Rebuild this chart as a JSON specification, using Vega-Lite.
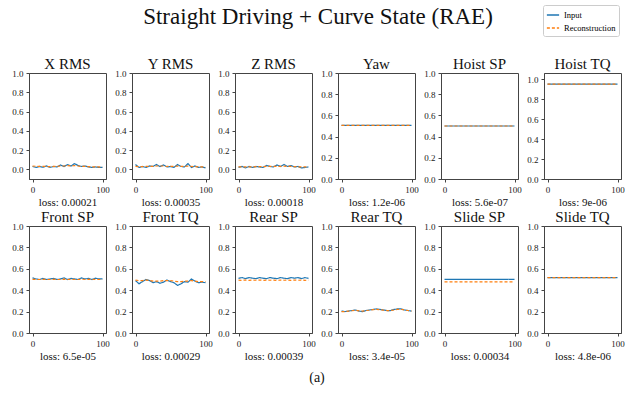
{
  "$schema": "https://vega.github.io/schema/vega-lite/v6.json",
  "background": "white",
  "padding": {"left": 11, "top": 4, "right": 5, "bottom": 5},
  "data": {"values": [
    {"p":"X RMS","x":0,"Input":0.03,"Reconstruction":0.035},
    {"p":"X RMS","x":5,"Input":0.02,"Reconstruction":0.032},
    {"p":"X RMS","x":10,"Input":0.03,"Reconstruction":0.03},
    {"p":"X RMS","x":15,"Input":0.022,"Reconstruction":0.03},
    {"p":"X RMS","x":20,"Input":0.035,"Reconstruction":0.03},
    {"p":"X RMS","x":25,"Input":0.02,"Reconstruction":0.028},
    {"p":"X RMS","x":30,"Input":0.03,"Reconstruction":0.03},
    {"p":"X RMS","x":35,"Input":0.025,"Reconstruction":0.03},
    {"p":"X RMS","x":40,"Input":0.045,"Reconstruction":0.035},
    {"p":"X RMS","x":45,"Input":0.03,"Reconstruction":0.035},
    {"p":"X RMS","x":50,"Input":0.05,"Reconstruction":0.038},
    {"p":"X RMS","x":55,"Input":0.035,"Reconstruction":0.035},
    {"p":"X RMS","x":60,"Input":0.06,"Reconstruction":0.04},
    {"p":"X RMS","x":65,"Input":0.04,"Reconstruction":0.035},
    {"p":"X RMS","x":70,"Input":0.03,"Reconstruction":0.03},
    {"p":"X RMS","x":75,"Input":0.035,"Reconstruction":0.03},
    {"p":"X RMS","x":80,"Input":0.025,"Reconstruction":0.028},
    {"p":"X RMS","x":85,"Input":0.02,"Reconstruction":0.025},
    {"p":"X RMS","x":90,"Input":0.025,"Reconstruction":0.025},
    {"p":"X RMS","x":95,"Input":0.02,"Reconstruction":0.025},
    {"p":"X RMS","x":100,"Input":0.02,"Reconstruction":0.022},
    {"p":"Y RMS","x":0,"Input":0.05,"Reconstruction":0.03},
    {"p":"Y RMS","x":5,"Input":0.02,"Reconstruction":0.028},
    {"p":"Y RMS","x":10,"Input":0.03,"Reconstruction":0.028},
    {"p":"Y RMS","x":15,"Input":0.02,"Reconstruction":0.03},
    {"p":"Y RMS","x":20,"Input":0.035,"Reconstruction":0.03},
    {"p":"Y RMS","x":25,"Input":0.03,"Reconstruction":0.032},
    {"p":"Y RMS","x":30,"Input":0.05,"Reconstruction":0.035},
    {"p":"Y RMS","x":35,"Input":0.03,"Reconstruction":0.035},
    {"p":"Y RMS","x":40,"Input":0.045,"Reconstruction":0.035},
    {"p":"Y RMS","x":45,"Input":0.025,"Reconstruction":0.03},
    {"p":"Y RMS","x":50,"Input":0.03,"Reconstruction":0.03},
    {"p":"Y RMS","x":55,"Input":0.02,"Reconstruction":0.03},
    {"p":"Y RMS","x":60,"Input":0.05,"Reconstruction":0.035},
    {"p":"Y RMS","x":65,"Input":0.03,"Reconstruction":0.032},
    {"p":"Y RMS","x":70,"Input":0.025,"Reconstruction":0.03},
    {"p":"Y RMS","x":75,"Input":0.06,"Reconstruction":0.035},
    {"p":"Y RMS","x":80,"Input":0.02,"Reconstruction":0.03},
    {"p":"Y RMS","x":85,"Input":0.035,"Reconstruction":0.028},
    {"p":"Y RMS","x":90,"Input":0.02,"Reconstruction":0.025},
    {"p":"Y RMS","x":95,"Input":0.025,"Reconstruction":0.025},
    {"p":"Y RMS","x":100,"Input":0.015,"Reconstruction":0.02},
    {"p":"Z RMS","x":0,"Input":0.02,"Reconstruction":0.025},
    {"p":"Z RMS","x":5,"Input":0.03,"Reconstruction":0.025},
    {"p":"Z RMS","x":10,"Input":0.015,"Reconstruction":0.025},
    {"p":"Z RMS","x":15,"Input":0.03,"Reconstruction":0.025},
    {"p":"Z RMS","x":20,"Input":0.02,"Reconstruction":0.025},
    {"p":"Z RMS","x":25,"Input":0.03,"Reconstruction":0.028},
    {"p":"Z RMS","x":30,"Input":0.025,"Reconstruction":0.028},
    {"p":"Z RMS","x":35,"Input":0.02,"Reconstruction":0.028},
    {"p":"Z RMS","x":40,"Input":0.04,"Reconstruction":0.03},
    {"p":"Z RMS","x":45,"Input":0.03,"Reconstruction":0.03},
    {"p":"Z RMS","x":50,"Input":0.025,"Reconstruction":0.03},
    {"p":"Z RMS","x":55,"Input":0.045,"Reconstruction":0.032},
    {"p":"Z RMS","x":60,"Input":0.03,"Reconstruction":0.032},
    {"p":"Z RMS","x":65,"Input":0.05,"Reconstruction":0.033},
    {"p":"Z RMS","x":70,"Input":0.03,"Reconstruction":0.03},
    {"p":"Z RMS","x":75,"Input":0.04,"Reconstruction":0.03},
    {"p":"Z RMS","x":80,"Input":0.025,"Reconstruction":0.028},
    {"p":"Z RMS","x":85,"Input":0.03,"Reconstruction":0.026},
    {"p":"Z RMS","x":90,"Input":0.015,"Reconstruction":0.025},
    {"p":"Z RMS","x":95,"Input":0.02,"Reconstruction":0.025},
    {"p":"Z RMS","x":100,"Input":0.025,"Reconstruction":0.024},
    {"p":"Yaw","x":0,"Input":0.505,"Reconstruction":0.505},
    {"p":"Yaw","x":100,"Input":0.505,"Reconstruction":0.505},
    {"p":"Hoist SP","x":0,"Input":0.5,"Reconstruction":0.5},
    {"p":"Hoist SP","x":100,"Input":0.5,"Reconstruction":0.5},
    {"p":"Hoist TQ","x":0,"Input":0.948,"Reconstruction":0.948},
    {"p":"Hoist TQ","x":100,"Input":0.948,"Reconstruction":0.948},
    {"p":"Front SP","x":0,"Input":0.515,"Reconstruction":0.502},
    {"p":"Front SP","x":5,"Input":0.505,"Reconstruction":0.5},
    {"p":"Front SP","x":10,"Input":0.5,"Reconstruction":0.5},
    {"p":"Front SP","x":15,"Input":0.51,"Reconstruction":0.502},
    {"p":"Front SP","x":20,"Input":0.5,"Reconstruction":0.5},
    {"p":"Front SP","x":25,"Input":0.505,"Reconstruction":0.5},
    {"p":"Front SP","x":30,"Input":0.51,"Reconstruction":0.502},
    {"p":"Front SP","x":35,"Input":0.5,"Reconstruction":0.5},
    {"p":"Front SP","x":40,"Input":0.505,"Reconstruction":0.5},
    {"p":"Front SP","x":45,"Input":0.515,"Reconstruction":0.503},
    {"p":"Front SP","x":50,"Input":0.5,"Reconstruction":0.5},
    {"p":"Front SP","x":55,"Input":0.51,"Reconstruction":0.502},
    {"p":"Front SP","x":60,"Input":0.505,"Reconstruction":0.5},
    {"p":"Front SP","x":65,"Input":0.5,"Reconstruction":0.5},
    {"p":"Front SP","x":70,"Input":0.515,"Reconstruction":0.503},
    {"p":"Front SP","x":75,"Input":0.505,"Reconstruction":0.5},
    {"p":"Front SP","x":80,"Input":0.51,"Reconstruction":0.502},
    {"p":"Front SP","x":85,"Input":0.5,"Reconstruction":0.5},
    {"p":"Front SP","x":90,"Input":0.512,"Reconstruction":0.502},
    {"p":"Front SP","x":95,"Input":0.505,"Reconstruction":0.5},
    {"p":"Front SP","x":100,"Input":0.505,"Reconstruction":0.5},
    {"p":"Front TQ","x":0,"Input":0.49,"Reconstruction":0.495},
    {"p":"Front TQ","x":5,"Input":0.46,"Reconstruction":0.49},
    {"p":"Front TQ","x":10,"Input":0.48,"Reconstruction":0.49},
    {"p":"Front TQ","x":15,"Input":0.5,"Reconstruction":0.495},
    {"p":"Front TQ","x":20,"Input":0.49,"Reconstruction":0.49},
    {"p":"Front TQ","x":25,"Input":0.47,"Reconstruction":0.485},
    {"p":"Front TQ","x":30,"Input":0.48,"Reconstruction":0.485},
    {"p":"Front TQ","x":35,"Input":0.465,"Reconstruction":0.485},
    {"p":"Front TQ","x":40,"Input":0.475,"Reconstruction":0.49},
    {"p":"Front TQ","x":45,"Input":0.495,"Reconstruction":0.49},
    {"p":"Front TQ","x":50,"Input":0.48,"Reconstruction":0.49},
    {"p":"Front TQ","x":55,"Input":0.47,"Reconstruction":0.485},
    {"p":"Front TQ","x":60,"Input":0.445,"Reconstruction":0.48},
    {"p":"Front TQ","x":65,"Input":0.46,"Reconstruction":0.48},
    {"p":"Front TQ","x":70,"Input":0.48,"Reconstruction":0.485},
    {"p":"Front TQ","x":75,"Input":0.475,"Reconstruction":0.485},
    {"p":"Front TQ","x":80,"Input":0.505,"Reconstruction":0.49},
    {"p":"Front TQ","x":85,"Input":0.485,"Reconstruction":0.485},
    {"p":"Front TQ","x":90,"Input":0.47,"Reconstruction":0.48},
    {"p":"Front TQ","x":95,"Input":0.475,"Reconstruction":0.48},
    {"p":"Front TQ","x":100,"Input":0.47,"Reconstruction":0.48},
    {"p":"Rear SP","x":0,"Input":0.51,"Reconstruction":0.495},
    {"p":"Rear SP","x":5,"Input":0.518,"Reconstruction":0.492},
    {"p":"Rear SP","x":10,"Input":0.508,"Reconstruction":0.495},
    {"p":"Rear SP","x":15,"Input":0.518,"Reconstruction":0.492},
    {"p":"Rear SP","x":20,"Input":0.512,"Reconstruction":0.495},
    {"p":"Rear SP","x":25,"Input":0.508,"Reconstruction":0.493},
    {"p":"Rear SP","x":30,"Input":0.518,"Reconstruction":0.495},
    {"p":"Rear SP","x":35,"Input":0.512,"Reconstruction":0.492},
    {"p":"Rear SP","x":40,"Input":0.508,"Reconstruction":0.495},
    {"p":"Rear SP","x":45,"Input":0.518,"Reconstruction":0.493},
    {"p":"Rear SP","x":50,"Input":0.512,"Reconstruction":0.495},
    {"p":"Rear SP","x":55,"Input":0.508,"Reconstruction":0.492},
    {"p":"Rear SP","x":60,"Input":0.518,"Reconstruction":0.495},
    {"p":"Rear SP","x":65,"Input":0.512,"Reconstruction":0.493},
    {"p":"Rear SP","x":70,"Input":0.508,"Reconstruction":0.495},
    {"p":"Rear SP","x":75,"Input":0.518,"Reconstruction":0.492},
    {"p":"Rear SP","x":80,"Input":0.512,"Reconstruction":0.495},
    {"p":"Rear SP","x":85,"Input":0.518,"Reconstruction":0.493},
    {"p":"Rear SP","x":90,"Input":0.508,"Reconstruction":0.495},
    {"p":"Rear SP","x":95,"Input":0.518,"Reconstruction":0.492},
    {"p":"Rear SP","x":100,"Input":0.51,"Reconstruction":0.495},
    {"p":"Rear TQ","x":0,"Input":0.205,"Reconstruction":0.2},
    {"p":"Rear TQ","x":5,"Input":0.2,"Reconstruction":0.2},
    {"p":"Rear TQ","x":10,"Input":0.205,"Reconstruction":0.205},
    {"p":"Rear TQ","x":15,"Input":0.21,"Reconstruction":0.208},
    {"p":"Rear TQ","x":20,"Input":0.215,"Reconstruction":0.212},
    {"p":"Rear TQ","x":25,"Input":0.205,"Reconstruction":0.207},
    {"p":"Rear TQ","x":30,"Input":0.2,"Reconstruction":0.205},
    {"p":"Rear TQ","x":35,"Input":0.21,"Reconstruction":0.21},
    {"p":"Rear TQ","x":40,"Input":0.215,"Reconstruction":0.213},
    {"p":"Rear TQ","x":45,"Input":0.22,"Reconstruction":0.218},
    {"p":"Rear TQ","x":50,"Input":0.225,"Reconstruction":0.22},
    {"p":"Rear TQ","x":55,"Input":0.22,"Reconstruction":0.218},
    {"p":"Rear TQ","x":60,"Input":0.215,"Reconstruction":0.213},
    {"p":"Rear TQ","x":65,"Input":0.21,"Reconstruction":0.21},
    {"p":"Rear TQ","x":70,"Input":0.21,"Reconstruction":0.21},
    {"p":"Rear TQ","x":75,"Input":0.22,"Reconstruction":0.215},
    {"p":"Rear TQ","x":80,"Input":0.225,"Reconstruction":0.22},
    {"p":"Rear TQ","x":85,"Input":0.225,"Reconstruction":0.222},
    {"p":"Rear TQ","x":90,"Input":0.215,"Reconstruction":0.215},
    {"p":"Rear TQ","x":95,"Input":0.21,"Reconstruction":0.21},
    {"p":"Rear TQ","x":100,"Input":0.205,"Reconstruction":0.205},
    {"p":"Slide SP","x":0,"Input":0.502,"Reconstruction":0.478},
    {"p":"Slide SP","x":100,"Input":0.502,"Reconstruction":0.478},
    {"p":"Slide TQ","x":0,"Input":0.518,"Reconstruction":0.518},
    {"p":"Slide TQ","x":100,"Input":0.518,"Reconstruction":0.518}
  ]},
  "spacing": 9,
  "vconcat": [
    {"title": {"text": "Straight Driving + Curve State (RAE)", "fontSize": 23, "anchor": "middle", "offset": 28, "color": "#111"},
     "columns": 6, "bounds": "flush", "spacing": {"row": 47, "column": 26},
     "concat": [
      {"title": "X RMS", "width": 77, "height": 106, "transform": [{"filter": "datum.p === 'X RMS'"}, {"fold": ["Input", "Reconstruction"], "as": ["series", "value"]}], "mark": {"type": "line", "strokeWidth": 1.2},
       "encoding": {"x": {"field": "x", "type": "quantitative", "scale": {"domain": [-5, 105], "nice": false, "zero": false}, "axis": {"values": [0, 100], "title": "loss: 0.00021"}},
        "y": {"field": "value", "type": "quantitative", "scale": {"domain": [-0.1, 1.0], "nice": false, "zero": false}, "axis": {"values": [0, 0.2, 0.4, 0.6, 0.8, 1.0], "format": ".1f", "title": null}},
        "color": {"field": "series", "type": "nominal", "scale": {"domain": ["Input", "Reconstruction"], "range": ["#1f77b4", "#ff7f0e"]}, "title": null},
        "strokeDash": {"field": "series", "type": "nominal", "scale": {"domain": ["Input", "Reconstruction"], "range": [[1, 0], [3, 2]]}, "title": null}}},
      {"title": "Y RMS", "width": 77, "height": 106, "transform": [{"filter": "datum.p === 'Y RMS'"}, {"fold": ["Input", "Reconstruction"], "as": ["series", "value"]}], "mark": {"type": "line", "strokeWidth": 1.2},
       "encoding": {"x": {"field": "x", "type": "quantitative", "scale": {"domain": [-5, 105], "nice": false, "zero": false}, "axis": {"values": [0, 100], "title": "loss: 0.00035"}},
        "y": {"field": "value", "type": "quantitative", "scale": {"domain": [-0.1, 1.0], "nice": false, "zero": false}, "axis": {"values": [0, 0.2, 0.4, 0.6, 0.8, 1.0], "format": ".1f", "title": null}},
        "color": {"field": "series", "type": "nominal", "scale": {"domain": ["Input", "Reconstruction"], "range": ["#1f77b4", "#ff7f0e"]}, "title": null},
        "strokeDash": {"field": "series", "type": "nominal", "scale": {"domain": ["Input", "Reconstruction"], "range": [[1, 0], [3, 2]]}, "title": null}}},
      {"title": "Z RMS", "width": 77, "height": 106, "transform": [{"filter": "datum.p === 'Z RMS'"}, {"fold": ["Input", "Reconstruction"], "as": ["series", "value"]}], "mark": {"type": "line", "strokeWidth": 1.2},
       "encoding": {"x": {"field": "x", "type": "quantitative", "scale": {"domain": [-5, 105], "nice": false, "zero": false}, "axis": {"values": [0, 100], "title": "loss: 0.00018"}},
        "y": {"field": "value", "type": "quantitative", "scale": {"domain": [-0.1, 1.0], "nice": false, "zero": false}, "axis": {"values": [0, 0.2, 0.4, 0.6, 0.8, 1.0], "format": ".1f", "title": null}},
        "color": {"field": "series", "type": "nominal", "scale": {"domain": ["Input", "Reconstruction"], "range": ["#1f77b4", "#ff7f0e"]}, "title": null},
        "strokeDash": {"field": "series", "type": "nominal", "scale": {"domain": ["Input", "Reconstruction"], "range": [[1, 0], [3, 2]]}, "title": null}}},
      {"title": "Yaw", "width": 77, "height": 106, "transform": [{"filter": "datum.p === 'Yaw'"}, {"fold": ["Input", "Reconstruction"], "as": ["series", "value"]}], "mark": {"type": "line", "strokeWidth": 1.2},
       "encoding": {"x": {"field": "x", "type": "quantitative", "scale": {"domain": [-5, 105], "nice": false, "zero": false}, "axis": {"values": [0, 100], "title": "loss: 1.2e-06"}},
        "y": {"field": "value", "type": "quantitative", "scale": {"domain": [0, 1.0], "nice": false, "zero": false}, "axis": {"values": [0, 0.2, 0.4, 0.6, 0.8, 1.0], "format": ".1f", "title": null}},
        "color": {"field": "series", "type": "nominal", "scale": {"domain": ["Input", "Reconstruction"], "range": ["#1f77b4", "#ff7f0e"]}, "title": null},
        "strokeDash": {"field": "series", "type": "nominal", "scale": {"domain": ["Input", "Reconstruction"], "range": [[1, 0], [3, 2]]}, "title": null}}},
      {"title": "Hoist SP", "width": 77, "height": 106, "transform": [{"filter": "datum.p === 'Hoist SP'"}, {"fold": ["Input", "Reconstruction"], "as": ["series", "value"]}], "mark": {"type": "line", "strokeWidth": 1.2},
       "encoding": {"x": {"field": "x", "type": "quantitative", "scale": {"domain": [-5, 105], "nice": false, "zero": false}, "axis": {"values": [0, 100], "title": "loss: 5.6e-07"}},
        "y": {"field": "value", "type": "quantitative", "scale": {"domain": [0, 1.0], "nice": false, "zero": false}, "axis": {"values": [0, 0.2, 0.4, 0.6, 0.8, 1.0], "format": ".1f", "title": null}},
        "color": {"field": "series", "type": "nominal", "scale": {"domain": ["Input", "Reconstruction"], "range": ["#1f77b4", "#ff7f0e"]}, "title": null},
        "strokeDash": {"field": "series", "type": "nominal", "scale": {"domain": ["Input", "Reconstruction"], "range": [[1, 0], [3, 2]]}, "title": null}}},
      {"title": {"text": "Hoist TQ", "offset": 1}, "width": 77, "height": 106, "transform": [{"filter": "datum.p === 'Hoist TQ'"}, {"fold": ["Input", "Reconstruction"], "as": ["series", "value"]}], "mark": {"type": "line", "strokeWidth": 1.2},
       "encoding": {"x": {"field": "x", "type": "quantitative", "scale": {"domain": [-5, 105], "nice": false, "zero": false}, "axis": {"values": [0, 100], "title": "loss: 9e-06"}},
        "y": {"field": "value", "type": "quantitative", "scale": {"domain": [0, 1.06], "nice": false, "zero": false}, "axis": {"values": [0, 0.2, 0.4, 0.6, 0.8, 1.0], "format": ".1f", "title": null}},
        "color": {"field": "series", "type": "nominal", "scale": {"domain": ["Input", "Reconstruction"], "range": ["#1f77b4", "#ff7f0e"]}, "title": null},
        "strokeDash": {"field": "series", "type": "nominal", "scale": {"domain": ["Input", "Reconstruction"], "range": [[1, 0], [3, 2]]}, "title": null}}},
      {"title": "Front SP", "width": 77, "height": 107, "transform": [{"filter": "datum.p === 'Front SP'"}, {"fold": ["Input", "Reconstruction"], "as": ["series", "value"]}], "mark": {"type": "line", "strokeWidth": 1.2},
       "encoding": {"x": {"field": "x", "type": "quantitative", "scale": {"domain": [-5, 105], "nice": false, "zero": false}, "axis": {"values": [0, 100], "title": "loss: 6.5e-05"}},
        "y": {"field": "value", "type": "quantitative", "scale": {"domain": [0, 1.0], "nice": false, "zero": false}, "axis": {"values": [0, 0.2, 0.4, 0.6, 0.8, 1.0], "format": ".1f", "title": null}},
        "color": {"field": "series", "type": "nominal", "scale": {"domain": ["Input", "Reconstruction"], "range": ["#1f77b4", "#ff7f0e"]}, "title": null},
        "strokeDash": {"field": "series", "type": "nominal", "scale": {"domain": ["Input", "Reconstruction"], "range": [[1, 0], [3, 2]]}, "title": null}}},
      {"title": "Front TQ", "width": 77, "height": 107, "transform": [{"filter": "datum.p === 'Front TQ'"}, {"fold": ["Input", "Reconstruction"], "as": ["series", "value"]}], "mark": {"type": "line", "strokeWidth": 1.2},
       "encoding": {"x": {"field": "x", "type": "quantitative", "scale": {"domain": [-5, 105], "nice": false, "zero": false}, "axis": {"values": [0, 100], "title": "loss: 0.00029"}},
        "y": {"field": "value", "type": "quantitative", "scale": {"domain": [0, 1.0], "nice": false, "zero": false}, "axis": {"values": [0, 0.2, 0.4, 0.6, 0.8, 1.0], "format": ".1f", "title": null}},
        "color": {"field": "series", "type": "nominal", "scale": {"domain": ["Input", "Reconstruction"], "range": ["#1f77b4", "#ff7f0e"]}, "title": null},
        "strokeDash": {"field": "series", "type": "nominal", "scale": {"domain": ["Input", "Reconstruction"], "range": [[1, 0], [3, 2]]}, "title": null}}},
      {"title": "Rear SP", "width": 77, "height": 107, "transform": [{"filter": "datum.p === 'Rear SP'"}, {"fold": ["Input", "Reconstruction"], "as": ["series", "value"]}], "mark": {"type": "line", "strokeWidth": 1.2},
       "encoding": {"x": {"field": "x", "type": "quantitative", "scale": {"domain": [-5, 105], "nice": false, "zero": false}, "axis": {"values": [0, 100], "title": "loss: 0.00039"}},
        "y": {"field": "value", "type": "quantitative", "scale": {"domain": [0, 1.0], "nice": false, "zero": false}, "axis": {"values": [0, 0.2, 0.4, 0.6, 0.8, 1.0], "format": ".1f", "title": null}},
        "color": {"field": "series", "type": "nominal", "scale": {"domain": ["Input", "Reconstruction"], "range": ["#1f77b4", "#ff7f0e"]}, "title": null},
        "strokeDash": {"field": "series", "type": "nominal", "scale": {"domain": ["Input", "Reconstruction"], "range": [[1, 0], [3, 2]]}, "title": null}}},
      {"title": "Rear TQ", "width": 77, "height": 107, "transform": [{"filter": "datum.p === 'Rear TQ'"}, {"fold": ["Input", "Reconstruction"], "as": ["series", "value"]}], "mark": {"type": "line", "strokeWidth": 1.2},
       "encoding": {"x": {"field": "x", "type": "quantitative", "scale": {"domain": [-5, 105], "nice": false, "zero": false}, "axis": {"values": [0, 100], "title": "loss: 3.4e-05"}},
        "y": {"field": "value", "type": "quantitative", "scale": {"domain": [0, 1.0], "nice": false, "zero": false}, "axis": {"values": [0, 0.2, 0.4, 0.6, 0.8, 1.0], "format": ".1f", "title": null}},
        "color": {"field": "series", "type": "nominal", "scale": {"domain": ["Input", "Reconstruction"], "range": ["#1f77b4", "#ff7f0e"]}, "title": null},
        "strokeDash": {"field": "series", "type": "nominal", "scale": {"domain": ["Input", "Reconstruction"], "range": [[1, 0], [3, 2]]}, "title": null}}},
      {"title": "Slide SP", "width": 77, "height": 107, "transform": [{"filter": "datum.p === 'Slide SP'"}, {"fold": ["Input", "Reconstruction"], "as": ["series", "value"]}], "mark": {"type": "line", "strokeWidth": 1.2},
       "encoding": {"x": {"field": "x", "type": "quantitative", "scale": {"domain": [-5, 105], "nice": false, "zero": false}, "axis": {"values": [0, 100], "title": "loss: 0.00034"}},
        "y": {"field": "value", "type": "quantitative", "scale": {"domain": [0, 1.0], "nice": false, "zero": false}, "axis": {"values": [0, 0.2, 0.4, 0.6, 0.8, 1.0], "format": ".1f", "title": null}},
        "color": {"field": "series", "type": "nominal", "scale": {"domain": ["Input", "Reconstruction"], "range": ["#1f77b4", "#ff7f0e"]}, "title": null},
        "strokeDash": {"field": "series", "type": "nominal", "scale": {"domain": ["Input", "Reconstruction"], "range": [[1, 0], [3, 2]]}, "title": null}}},
      {"title": "Slide TQ", "width": 77, "height": 107, "transform": [{"filter": "datum.p === 'Slide TQ'"}, {"fold": ["Input", "Reconstruction"], "as": ["series", "value"]}], "mark": {"type": "line", "strokeWidth": 1.2},
       "encoding": {"x": {"field": "x", "type": "quantitative", "scale": {"domain": [-5, 105], "nice": false, "zero": false}, "axis": {"values": [0, 100], "title": "loss: 4.8e-06"}},
        "y": {"field": "value", "type": "quantitative", "scale": {"domain": [0, 1.0], "nice": false, "zero": false}, "axis": {"values": [0, 0.2, 0.4, 0.6, 0.8, 1.0], "format": ".1f", "title": null}},
        "color": {"field": "series", "type": "nominal", "scale": {"domain": ["Input", "Reconstruction"], "range": ["#1f77b4", "#ff7f0e"]}, "title": null},
        "strokeDash": {"field": "series", "type": "nominal", "scale": {"domain": ["Input", "Reconstruction"], "range": [[1, 0], [3, 2]]}, "title": null}}}
    ]},
    {"width": 576, "height": 2, "view": {"stroke": null}, "data": {"values": [{"caption": "(a)"}]}, "mark": {"type": "text", "fontSize": 14, "font": "Liberation Serif", "color": "#111"}, "encoding": {"text": {"field": "caption", "type": "nominal"}}}
  ],
  "config": {
    "font": "Liberation Serif",
    "view": {"stroke": "#444", "strokeWidth": 1},
    "axis": {"labelFont": "Liberation Serif", "labelFontSize": 9, "labelColor": "#222", "titleFont": "Liberation Serif", "titleFontSize": 11, "titleFontWeight": "normal", "titleColor": "#111", "domainColor": "#444", "tickColor": "#444", "tickSize": 3, "labelPadding": 3, "titlePadding": 2, "grid": false},
    "title": {"font": "Liberation Serif", "fontWeight": "normal", "fontSize": 15, "color": "#111", "offset": -3},
    "legend": {"orient": "none", "legendX": 514, "legendY": -68, "strokeColor": "#ccc", "fillColor": "white", "padding": 3, "symbolType": "stroke", "symbolSize": 150, "symbolStrokeWidth": 1.5, "labelFont": "Liberation Serif", "labelFontSize": 8.5, "rowPadding": 1, "cornerRadius": 2}
  }
}
